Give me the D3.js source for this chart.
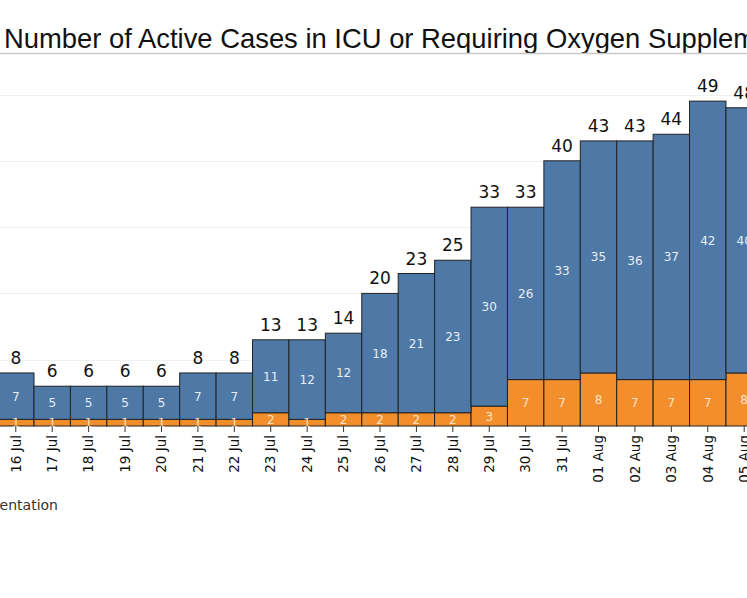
<!DOCTYPE html>
<html>
<head>
<meta charset="utf-8">
<title>Active Cases in ICU or Requiring Oxygen</title>
<script src="https://cdn.jsdelivr.net/npm/d3@7"></script>
<style>
  body { margin: 0; background: #fff; overflow: hidden; }
</style>
</head>
<body>
<script>
// data
var dates = ["16 Jul","17 Jul","18 Jul","19 Jul","20 Jul","21 Jul","22 Jul","23 Jul","24 Jul","25 Jul","26 Jul",
             "27 Jul","28 Jul","29 Jul","30 Jul","31 Jul","01 Aug","02 Aug","03 Aug","04 Aug","05 Aug"];
var oxygen = [1,1,1,1,1,1,1,2,1,2,2,2,2,3,7,7,8,7,7,7,8];
var icu    = [7,5,5,5,5,7,7,11,12,12,18,21,23,30,26,33,35,36,37,42,40];
var gridTicks = [10,20,30,40,50];

var width = 747, height = 598;
var svg = d3.select("body").append("svg")
    .attr("width", width)
    .attr("height", height);

// title, cut off on the right like the screenshot
svg.append("text")
    .attr("x", 4)
    .attr("y", 48)
    .attr("font-family", "Liberation Sans, Arial, sans-serif")
    .attr("font-size", 27.4)
    .attr("fill", "#111")
    .text("Number of Active Cases in ICU or Requiring Oxygen Supplementation");
svg.append("line")
    .attr("x1", 0).attr("x2", width)
    .attr("y1", 53.5).attr("y2", 53.5)
    .attr("stroke", "#c8c8c8")
    .attr("stroke-width", 1.5);

var step = 36.42;
var x = d3.scaleBand()
    .domain(dates)
    .range([34 - step, 34 - step + step * dates.length])
    .padding(0);

var y = d3.scaleLinear()
    .domain([0, 50])
    .range([426, 94.5]);

// gridlines
svg.append("g").selectAll("line")
    .data(gridTicks)
    .join("line")
    .attr("x1", 0).attr("x2", width)
    .attr("y1", function(d) { return Math.round(y(d)) + 0.5; })
    .attr("y2", function(d) { return Math.round(y(d)) + 0.5; })
    .attr("stroke", "#f0f0f0");

var rows = dates.map(function(d, i) {
    return { date: d, oxy: oxygen[i], icu: icu[i], total: oxygen[i] + icu[i] };
});

var bars = svg.append("g");

// orange: requiring oxygen (bottom)
bars.selectAll("rect.oxy")
    .data(rows)
    .join("rect")
    .attr("class", "oxy")
    .attr("x", function(d) { return x(d.date); })
    .attr("width", x.bandwidth())
    .attr("y", function(d) { return y(d.oxy); })
    .attr("height", function(d) { return y(0) - y(d.oxy); })
    .attr("fill", "#f28e2b")
    .attr("stroke", "#222")
    .attr("stroke-width", 1);

// blue: icu (stacked on top)
bars.selectAll("rect.icu")
    .data(rows)
    .join("rect")
    .attr("class", "icu")
    .attr("x", function(d) { return x(d.date); })
    .attr("width", x.bandwidth())
    .attr("y", function(d) { return y(d.total); })
    .attr("height", function(d) { return y(d.oxy) - y(d.total); })
    .attr("fill", "#4e79a7")
    .attr("stroke", "#222")
    .attr("stroke-width", 1);

var labelFont = "DejaVu Sans, Verdana, sans-serif";

// segment labels
svg.append("g").selectAll("text")
    .data(rows)
    .join("text")
    .attr("x", function(d) { return x(d.date) + x.bandwidth() / 2; })
    .attr("y", function(d) { return (y(d.oxy) + y(d.total)) / 2 + 4.5; })
    .attr("text-anchor", "middle")
    .attr("font-family", labelFont)
    .attr("font-size", 12)
    .attr("fill", "#e6edf5")
    .text(function(d) { return d.icu; });

svg.append("g").selectAll("text")
    .data(rows)
    .join("text")
    .attr("x", function(d) { return x(d.date) + x.bandwidth() / 2; })
    .attr("y", function(d) { return (y(0) + y(d.oxy)) / 2 + 4.5; })
    .attr("text-anchor", "middle")
    .attr("font-family", labelFont)
    .attr("font-size", 12)
    .attr("fill", "#fde3c6")
    .text(function(d) { return d.oxy; });

// totals
svg.append("g").selectAll("text")
    .data(rows)
    .join("text")
    .attr("x", function(d) { return x(d.date) + x.bandwidth() / 2; })
    .attr("y", function(d) { return y(d.total) - 9; })
    .attr("text-anchor", "middle")
    .attr("font-family", labelFont)
    .attr("font-size", 17)
    .attr("fill", "#111")
    .text(function(d) { return d.total; });

// x axis
var xAxis = svg.append("g")
    .attr("transform", "translate(0," + y(0) + ")")
    .call(d3.axisBottom(x).tickSize(6).tickSizeOuter(0));
xAxis.select(".domain").remove();
xAxis.selectAll(".tick line").attr("stroke", "#333");
xAxis.selectAll(".tick text")
    .attr("font-family", labelFont)
    .attr("font-size", 13.5)
    .attr("fill", "#111")
    .attr("transform", "rotate(-90)")
    .attr("text-anchor", "end")
    .attr("x", -9)
    .attr("y", 0)
    .attr("dy", "0.35em");

// legend text, cut off on the left
svg.append("text")
    .attr("x", 58)
    .attr("y", 510)
    .attr("text-anchor", "end")
    .attr("font-family", labelFont)
    .attr("font-size", 14)
    .attr("fill", "#333")
    .text("Requiring Oxygen Supplementation");
</script>
</body>
</html>
